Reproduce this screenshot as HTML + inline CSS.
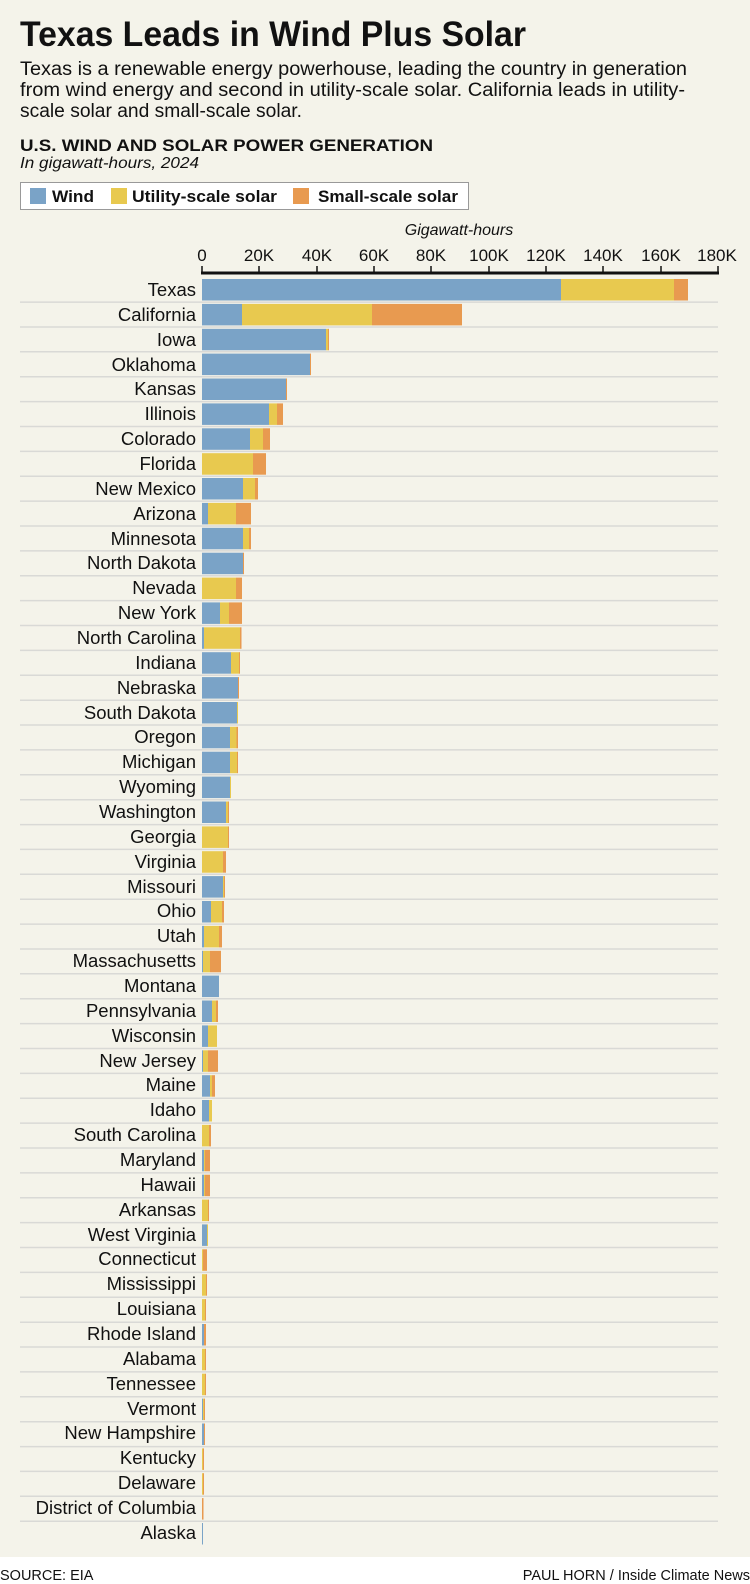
<!DOCTYPE html>
<html><head><meta charset="utf-8"><style>
html,body{margin:0;padding:0;background:#fff}
svg{display:block}
.w{fill:#7aa3c7}.u{fill:#e8c94f}.s{fill:#e89a50}
</style></head><body>
<svg width="750" height="1584" viewBox="0 0 750 1584" xmlns="http://www.w3.org/2000/svg">
<rect x="0" y="0" width="750" height="1557" fill="#f4f3ea"/>
<rect x="0" y="1557" width="750" height="27" fill="#ffffff"/>
<g font-family="'Liberation Sans Narrow','Liberation Sans',sans-serif" fill="#111">
<text x="20" y="46" font-family="'Liberation Sans',sans-serif" font-weight="bold" font-size="35" textLength="506" lengthAdjust="spacingAndGlyphs">Texas Leads in Wind Plus Solar</text>
<text x="20" y="75" font-size="19" textLength="667" lengthAdjust="spacingAndGlyphs">Texas is a renewable energy powerhouse, leading the country in generation</text>
<text x="20" y="96" font-size="19" textLength="665" lengthAdjust="spacingAndGlyphs">from wind energy and second in utility-scale solar. California leads in utility-</text>
<text x="20" y="117" font-size="19" textLength="282" lengthAdjust="spacingAndGlyphs">scale solar and small-scale solar.</text>
<text x="20" y="151" font-family="'Liberation Sans',sans-serif" font-weight="bold" font-size="17" textLength="413" lengthAdjust="spacingAndGlyphs">U.S. WIND AND SOLAR POWER GENERATION</text>
<text x="20" y="168" font-size="16" font-style="italic" textLength="179" lengthAdjust="spacingAndGlyphs">In gigawatt-hours, 2024</text>
</g>
<rect x="20.5" y="182.5" width="448" height="27" fill="#fff" stroke="#999" stroke-width="1"/>
<rect x="30" y="188" width="16" height="16" fill="#7aa3c7"/>
<rect x="111" y="188" width="16" height="16" fill="#e8c94f"/>
<rect x="293" y="188" width="16" height="16" fill="#e89a50"/>
<g font-family="'Liberation Sans Narrow','Liberation Sans',sans-serif" font-weight="bold" font-size="17" fill="#111">
<text x="52" y="202" textLength="42" lengthAdjust="spacingAndGlyphs">Wind</text>
<text x="132" y="202" textLength="145" lengthAdjust="spacingAndGlyphs">Utility-scale solar</text>
<text x="318" y="202" textLength="140" lengthAdjust="spacingAndGlyphs">Small-scale solar</text>
</g>
<text x="459" y="235" text-anchor="middle" font-family="'Liberation Sans Narrow','Liberation Sans',sans-serif" font-style="italic" font-size="16" fill="#111">Gigawatt-hours</text>
<g font-family="'Liberation Sans Narrow','Liberation Sans',sans-serif" font-size="17" fill="#111" text-anchor="middle">
<text x="202" y="261">0</text><text x="259" y="261">20K</text><text x="317" y="261">40K</text><text x="374" y="261">60K</text><text x="431" y="261">80K</text><text x="489" y="261">100K</text><text x="546" y="261">120K</text><text x="603" y="261">140K</text><text x="661" y="261">160K</text><text x="717" y="261">180K</text>
</g>
<g stroke="#111" stroke-width="1.5">
<line x1="202" y1="266" x2="202" y2="273"/><line x1="259" y1="266" x2="259" y2="273"/><line x1="317" y1="266" x2="317" y2="273"/><line x1="374" y1="266" x2="374" y2="273"/><line x1="431" y1="266" x2="431" y2="273"/><line x1="489" y1="266" x2="489" y2="273"/><line x1="546" y1="266" x2="546" y2="273"/><line x1="603" y1="266" x2="603" y2="273"/><line x1="661" y1="266" x2="661" y2="273"/><line x1="718" y1="266" x2="718" y2="273"/>
</g>
<line x1="201" y1="273" x2="719" y2="273" stroke="#111" stroke-width="3"/>
<path stroke="#d9d9d6" stroke-width="1.5" fill="none" d="M20 302.1h698M20 327h698M20 351.8h698M20 376.7h698M20 401.6h698M20 426.5h698M20 451.4h698M20 476.2h698M20 501.1h698M20 526h698M20 550.9h698M20 575.8h698M20 600.6h698M20 625.5h698M20 650.4h698M20 675.3h698M20 700.2h698M20 725h698M20 749.9h698M20 774.8h698M20 799.7h698M20 824.6h698M20 849.4h698M20 874.3h698M20 899.2h698M20 924.1h698M20 949h698M20 973.8h698M20 998.7h698M20 1023.6h698M20 1048.5h698M20 1073.4h698M20 1098.2h698M20 1123.1h698M20 1148h698M20 1172.9h698M20 1197.8h698M20 1222.6h698M20 1247.5h698M20 1272.4h698M20 1297.3h698M20 1322.2h698M20 1347h698M20 1371.9h698M20 1396.8h698M20 1421.7h698M20 1446.6h698M20 1471.4h698M20 1496.3h698M20 1521.2h698"/>
<g>
<g transform="translate(0,279)"><rect class="w" x="202" width="359" height="21.5"/><rect class="u" x="561" width="113" height="21.5"/><rect class="s" x="674" width="14" height="21.5"/></g>
<g transform="translate(0,303.9)"><rect class="w" x="202" width="40" height="21.5"/><rect class="u" x="242" width="130" height="21.5"/><rect class="s" x="372" width="90" height="21.5"/></g>
<g transform="translate(0,328.8)"><rect class="w" x="202" width="124" height="21.5"/><rect class="u" x="326" width="2" height="21.5"/><rect class="s" x="328" width="1" height="21.5"/></g>
<g transform="translate(0,353.6)"><rect class="w" x="202" width="108" height="21.5"/><rect class="s" x="310" width="1" height="21.5"/></g>
<g transform="translate(0,378.5)"><rect class="w" x="202" width="84" height="21.5"/><rect class="s" x="286" width="1" height="21.5"/></g>
<g transform="translate(0,403.4)"><rect class="w" x="202" width="67" height="21.5"/><rect class="u" x="269" width="8" height="21.5"/><rect class="s" x="277" width="6" height="21.5"/></g>
<g transform="translate(0,428.3)"><rect class="w" x="202" width="48" height="21.5"/><rect class="u" x="250" width="13" height="21.5"/><rect class="s" x="263" width="7" height="21.5"/></g>
<g transform="translate(0,453.2)"><rect class="u" x="202" width="51" height="21.5"/><rect class="s" x="253" width="13" height="21.5"/></g>
<g transform="translate(0,478)"><rect class="w" x="202" width="41" height="21.5"/><rect class="u" x="243" width="12" height="21.5"/><rect class="s" x="255" width="3" height="21.5"/></g>
<g transform="translate(0,502.9)"><rect class="w" x="202" width="6" height="21.5"/><rect class="u" x="208" width="28" height="21.5"/><rect class="s" x="236" width="15" height="21.5"/></g>
<g transform="translate(0,527.8)"><rect class="w" x="202" width="41" height="21.5"/><rect class="u" x="243" width="6" height="21.5"/><rect class="s" x="249" width="2" height="21.5"/></g>
<g transform="translate(0,552.7)"><rect class="w" x="202" width="41" height="21.5"/><rect class="s" x="243" width="1" height="21.5"/></g>
<g transform="translate(0,577.6)"><rect class="u" x="202" width="34" height="21.5"/><rect class="s" x="236" width="6" height="21.5"/></g>
<g transform="translate(0,602.4)"><rect class="w" x="202" width="18" height="21.5"/><rect class="u" x="220" width="9" height="21.5"/><rect class="s" x="229" width="13" height="21.5"/></g>
<g transform="translate(0,627.3)"><rect class="w" x="202" width="2" height="21.5"/><rect class="u" x="204" width="36" height="21.5"/><rect class="s" x="240" width="1.5" height="21.5"/></g>
<g transform="translate(0,652.2)"><rect class="w" x="202" width="29" height="21.5"/><rect class="u" x="231" width="8" height="21.5"/><rect class="s" x="239" width="1" height="21.5"/></g>
<g transform="translate(0,677.1)"><rect class="w" x="202" width="36" height="21.5"/><rect class="s" x="238" width="1" height="21.5"/></g>
<g transform="translate(0,702)"><rect class="w" x="202" width="35" height="21.5"/><rect class="u" x="237" width="1" height="21.5"/></g>
<g transform="translate(0,726.8)"><rect class="w" x="202" width="28" height="21.5"/><rect class="u" x="230" width="6.5" height="21.5"/><rect class="s" x="236.5" width="1.5" height="21.5"/></g>
<g transform="translate(0,751.7)"><rect class="w" x="202" width="28" height="21.5"/><rect class="u" x="230" width="7" height="21.5"/><rect class="s" x="237" width="1" height="21.5"/></g>
<g transform="translate(0,776.6)"><rect class="w" x="202" width="28" height="21.5"/><rect class="u" x="230" width="1" height="21.5"/></g>
<g transform="translate(0,801.5)"><rect class="w" x="202" width="24" height="21.5"/><rect class="u" x="226" width="2" height="21.5"/><rect class="s" x="228" width="1" height="21.5"/></g>
<g transform="translate(0,826.4)"><rect class="u" x="202" width="26" height="21.5"/><rect class="s" x="228" width="1" height="21.5"/></g>
<g transform="translate(0,851.2)"><rect class="u" x="202" width="21" height="21.5"/><rect class="s" x="223" width="3" height="21.5"/></g>
<g transform="translate(0,876.1)"><rect class="w" x="202" width="21" height="21.5"/><rect class="u" x="223" width="1" height="21.5"/><rect class="s" x="224" width="1" height="21.5"/></g>
<g transform="translate(0,901)"><rect class="w" x="202" width="9" height="21.5"/><rect class="u" x="211" width="11" height="21.5"/><rect class="s" x="222" width="2" height="21.5"/></g>
<g transform="translate(0,925.9)"><rect class="w" x="202" width="2" height="21.5"/><rect class="u" x="204" width="15" height="21.5"/><rect class="s" x="219" width="3" height="21.5"/></g>
<g transform="translate(0,950.8)"><rect class="w" x="202" width="1" height="21.5"/><rect class="u" x="203" width="7" height="21.5"/><rect class="s" x="210" width="11" height="21.5"/></g>
<g transform="translate(0,975.6)"><rect class="w" x="202" width="17" height="21.5"/></g>
<g transform="translate(0,1000.5)"><rect class="w" x="202" width="10" height="21.5"/><rect class="u" x="212" width="4" height="21.5"/><rect class="s" x="216" width="2" height="21.5"/></g>
<g transform="translate(0,1025.4)"><rect class="w" x="202" width="6" height="21.5"/><rect class="u" x="208" width="9" height="21.5"/></g>
<g transform="translate(0,1050.3)"><rect class="w" x="202" width="1" height="21.5"/><rect class="u" x="203" width="5" height="21.5"/><rect class="s" x="208" width="10" height="21.5"/></g>
<g transform="translate(0,1075.2)"><rect class="w" x="202" width="8" height="21.5"/><rect class="u" x="210" width="2" height="21.5"/><rect class="s" x="212" width="3" height="21.5"/></g>
<g transform="translate(0,1100)"><rect class="w" x="202" width="7" height="21.5"/><rect class="u" x="209" width="3" height="21.5"/></g>
<g transform="translate(0,1124.9)"><rect class="u" x="202" width="7" height="21.5"/><rect class="s" x="209" width="2" height="21.5"/></g>
<g transform="translate(0,1149.8)"><rect class="w" x="202" width="2" height="21.5"/><rect class="u" x="204" width="1" height="21.5"/><rect class="s" x="205" width="5" height="21.5"/></g>
<g transform="translate(0,1174.7)"><rect class="w" x="202" width="2" height="21.5"/><rect class="u" x="204" width="1" height="21.5"/><rect class="s" x="205" width="5" height="21.5"/></g>
<g transform="translate(0,1199.6)"><rect class="u" x="202" width="6" height="21.5"/><rect class="s" x="208" width="1" height="21.5"/></g>
<g transform="translate(0,1224.4)"><rect class="w" x="202" width="5" height="21.5"/><rect class="u" x="207" width="1" height="21.5"/></g>
<g transform="translate(0,1249.3)"><rect class="u" x="202" width="1" height="21.5"/><rect class="s" x="203" width="4" height="21.5"/></g>
<g transform="translate(0,1274.2)"><rect class="u" x="202" width="4" height="21.5"/><rect class="s" x="206" width="1" height="21.5"/></g>
<g transform="translate(0,1299.1)"><rect class="u" x="202" width="3" height="21.5"/><rect class="s" x="205" width="1" height="21.5"/></g>
<g transform="translate(0,1324)"><rect class="w" x="202" width="2" height="21.5"/><rect class="s" x="204" width="2" height="21.5"/></g>
<g transform="translate(0,1348.8)"><rect class="u" x="202" width="3" height="21.5"/><rect class="s" x="205" width="1" height="21.5"/></g>
<g transform="translate(0,1373.7)"><rect class="u" x="202" width="3" height="21.5"/><rect class="s" x="205" width="1" height="21.5"/></g>
<g transform="translate(0,1398.6)"><rect class="w" x="202" width="1" height="21.5"/><rect class="u" x="203" width="1" height="21.5"/><rect class="s" x="204" width="1" height="21.5"/></g>
<g transform="translate(0,1423.5)"><rect class="w" x="202" width="2" height="21.5"/><rect class="s" x="204" width="1" height="21.5"/></g>
<g transform="translate(0,1448.4)"><rect class="u" x="202" width="1" height="21.5"/><rect class="s" x="203" width="1" height="21.5"/></g>
<g transform="translate(0,1473.2)"><rect class="u" x="202" width="1" height="21.5"/><rect class="s" x="203" width="1" height="21.5"/></g>
<g transform="translate(0,1498.1)"><rect class="s" x="202" width="1.5" height="21.5"/></g>
<g transform="translate(0,1523)"><rect class="w" x="202" width="1" height="21.5"/></g>
</g>
<g font-family="'Liberation Sans Narrow','Liberation Sans',sans-serif" font-size="14.5" fill="#111">
<text x="0" y="1580">SOURCE: EIA</text>
<text x="750" y="1580" text-anchor="end">PAUL HORN / Inside Climate News</text>
</g>
<g font-family="'Liberation Sans Narrow','Liberation Sans',sans-serif" font-size="18.5" fill="#111" text-anchor="end">
<text x="196" y="296">Texas</text>
<text x="196" y="321">California</text>
<text x="196" y="346">Iowa</text>
<text x="196" y="371">Oklahoma</text>
<text x="196" y="395">Kansas</text>
<text x="196" y="420">Illinois</text>
<text x="196" y="445">Colorado</text>
<text x="196" y="470">Florida</text>
<text x="196" y="495">New Mexico</text>
<text x="196" y="520">Arizona</text>
<text x="196" y="545">Minnesota</text>
<text x="196" y="569">North Dakota</text>
<text x="196" y="594">Nevada</text>
<text x="196" y="619">New York</text>
<text x="196" y="644">North Carolina</text>
<text x="196" y="669">Indiana</text>
<text x="196" y="694">Nebraska</text>
<text x="196" y="719">South Dakota</text>
<text x="196" y="743">Oregon</text>
<text x="196" y="768">Michigan</text>
<text x="196" y="793">Wyoming</text>
<text x="196" y="818">Washington</text>
<text x="196" y="843">Georgia</text>
<text x="196" y="868">Virginia</text>
<text x="196" y="893">Missouri</text>
<text x="196" y="917">Ohio</text>
<text x="196" y="942">Utah</text>
<text x="196" y="967">Massachusetts</text>
<text x="196" y="992">Montana</text>
<text x="196" y="1017">Pennsylvania</text>
<text x="196" y="1042">Wisconsin</text>
<text x="196" y="1067">New Jersey</text>
<text x="196" y="1091">Maine</text>
<text x="196" y="1116">Idaho</text>
<text x="196" y="1141">South Carolina</text>
<text x="196" y="1166">Maryland</text>
<text x="196" y="1191">Hawaii</text>
<text x="196" y="1216">Arkansas</text>
<text x="196" y="1241">West Virginia</text>
<text x="196" y="1265">Connecticut</text>
<text x="196" y="1290">Mississippi</text>
<text x="196" y="1315">Louisiana</text>
<text x="196" y="1340">Rhode Island</text>
<text x="196" y="1365">Alabama</text>
<text x="196" y="1390">Tennessee</text>
<text x="196" y="1415">Vermont</text>
<text x="196" y="1439">New Hampshire</text>
<text x="196" y="1464">Kentucky</text>
<text x="196" y="1489">Delaware</text>
<text x="196" y="1514">District of Columbia</text>
<text x="196" y="1539">Alaska</text>
</g>
</svg>
</body></html>
